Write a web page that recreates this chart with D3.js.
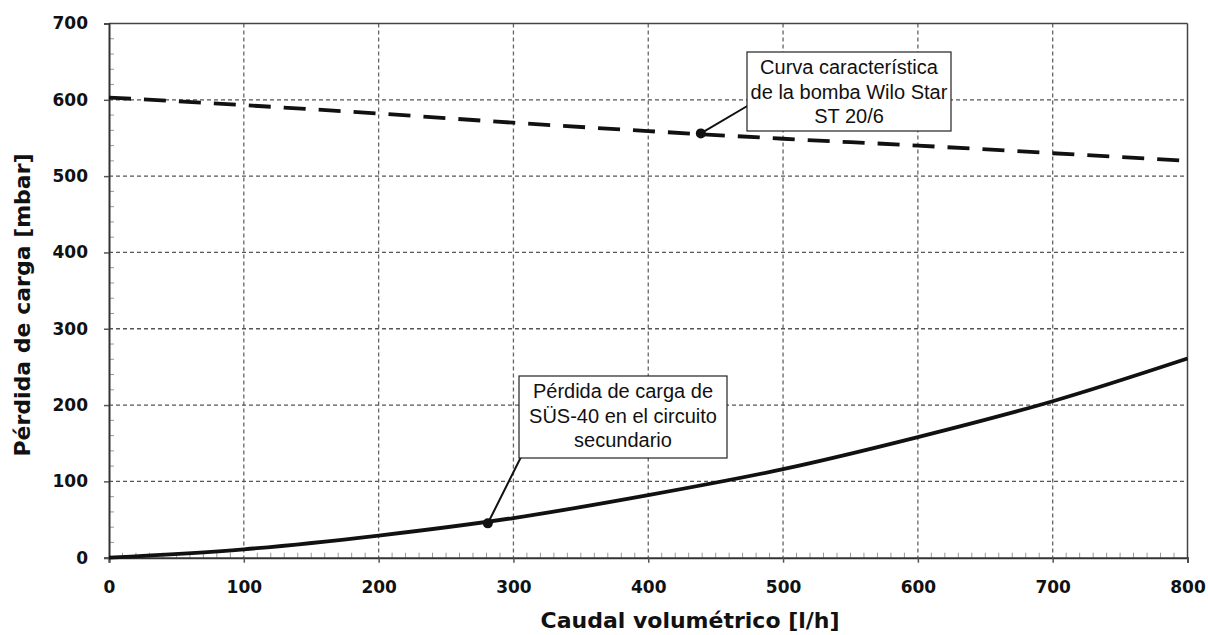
<!DOCTYPE html>
<html><head><meta charset="utf-8">
<script src="https://cdn.jsdelivr.net/npm/d3@7"></script>
<style>body{margin:0;background:#fff}</style>
</head><body>
<svg id="c" width="1208" height="635"></svg>
<script>
// Data
const flowX = [0, 100, 200, 300, 400, 500, 600, 700, 800];           // l/h
const pumpCurve = [603, 593, 582, 570, 559, 549, 540, 530, 520];       // mbar
const lossCurve = [0, 11, 29, 52, 82, 116, 158, 205, 261];             // mbar
const xTicks = [0, 100, 200, 300, 400, 500, 600, 700, 800];
const yTicks = [0, 100, 200, 300, 400, 500, 600, 700];
const pumpLabel = ["Curva característica", "de la bomba Wilo Star", "ST 20/6"];
const lossLabel = ["Pérdida de carga de", "SÜS-40 en el circuito", "secundario"];
const pumpMarker = [439, 556];
const lossMarker = [281, 45];
const xTitle = "Caudal volumétrico [l/h]";
const yTitle = "Pérdida de carga [mbar]";

const svg = d3.select("#c");
const L = 109, R = 1187.5, T = 23.5, B = 557.7;
const x = d3.scaleLinear().domain([0, 800]).range([L, R]);
const y = d3.scaleLinear().domain([0, 700]).range([B, T]);

// grid
const g = svg.append("g");
g.selectAll(".vg").data(xTicks.slice(1, -1)).join("line")
  .attr("x1", d => x(d)).attr("x2", d => x(d)).attr("y1", T).attr("y2", B)
  .attr("stroke", "#666").attr("stroke-width", 1.3).attr("stroke-dasharray", "4,3");
g.selectAll(".hg").data(yTicks.slice(1, -1)).join("line")
  .attr("y1", d => y(d)).attr("y2", d => y(d)).attr("x1", L).attr("x2", R)
  .attr("stroke", "#555").attr("stroke-width", 1.3).attr("stroke-dasharray", "4,3");

// frame top/right
svg.append("line").attr("x1", L).attr("x2", R).attr("y1", T).attr("y2", T).attr("stroke", "#444").attr("stroke-width", 1.5);
svg.append("line").attr("x1", R).attr("x2", R).attr("y1", T).attr("y2", B).attr("stroke", "#444").attr("stroke-width", 1.5);

// minor ticks
const xMinor = d3.range(0, 801, 10).filter(v => v % 100 !== 0);
const yMinor = d3.range(0, 701, 20).filter(v => v % 100 !== 0);
svg.append("g").selectAll("line").data(xMinor).join("line")
  .attr("x1", d => x(d)).attr("x2", d => x(d)).attr("y1", B).attr("y2", B - 5)
  .attr("stroke", "#999").attr("stroke-width", 1);
svg.append("g").selectAll("line").data(yMinor).join("line")
  .attr("y1", d => y(d)).attr("y2", d => y(d)).attr("x1", L).attr("x2", L + 5)
  .attr("stroke", "#999").attr("stroke-width", 1);

// axes
const fontTick = "'DejaVu Sans', sans-serif";
const xAxis = svg.append("g").attr("transform", `translate(0,${B})`)
  .call(d3.axisBottom(x).tickValues(xTicks).tickSize(5).tickPadding(18).tickFormat(d3.format("d")));
const yAxis = svg.append("g").attr("transform", `translate(${L},0)`)
  .call(d3.axisLeft(y).tickValues(yTicks).tickSize(5).tickPadding(16).tickFormat(d3.format("d")));
[xAxis, yAxis].forEach(a => {
  a.select(".domain").attr("stroke", "#333").attr("stroke-width", 2);
  a.selectAll(".tick line").attr("stroke", "#555").attr("stroke-width", 1.5);
  a.selectAll(".tick text").attr("fill", "#111").attr("font-family", fontTick)
    .attr("font-weight", "bold").attr("font-size", 17);
});

// curves
const line = d3.line().x((d, i) => x(flowX[i])).y(d => y(d)).curve(d3.curveMonotoneX);
svg.append("path").datum(pumpCurve).attr("d", line).attr("fill", "none")
  .attr("stroke", "#111").attr("stroke-width", 3.8).attr("stroke-dasharray", "22,13");
svg.append("path").datum(lossCurve).attr("d", line).attr("fill", "none")
  .attr("stroke", "#111").attr("stroke-width", 3.8);

// annotations
function annot(lines, marker, box, anchor) {
  const gg = svg.append("g");
  gg.append("line").attr("x1", x(marker[0])).attr("y1", y(marker[1]))
    .attr("x2", anchor[0]).attr("y2", anchor[1]).attr("stroke", "#111").attr("stroke-width", 2);
  gg.append("circle").attr("cx", x(marker[0])).attr("cy", y(marker[1])).attr("r", 5).attr("fill", "#111");
  gg.append("rect").attr("x", box[0]).attr("y", box[1]).attr("width", box[2]).attr("height", box[3])
    .attr("fill", "#fff").attr("stroke", "#222").attr("stroke-width", 1.2);
  const t = gg.append("text").attr("text-anchor", "middle").attr("font-family", "'Liberation Sans', Arial, sans-serif")
    .attr("font-size", 20).attr("fill", "#111");
  lines.forEach((s, i) => t.append("tspan").attr("x", box[0] + box[2] / 2)
    .attr("y", box[1] + 22 + i * 24.5).text(s));
}
annot(pumpLabel, pumpMarker, [747, 52, 204, 79], [749, 105]);
annot(lossLabel, lossMarker, [519, 376, 208, 82], [521, 457]);

// axis titles
svg.append("text").attr("x", 690).attr("y", 628).attr("text-anchor", "middle")
  .attr("font-family", fontTick).attr("font-weight", "bold").attr("font-size", 22).attr("fill", "#111").text(xTitle);
svg.append("text").attr("transform", `translate(30,${305}) rotate(-90)`).attr("text-anchor", "middle")
  .attr("font-family", fontTick).attr("font-weight", "bold").attr("font-size", 22).attr("fill", "#111").text(yTitle);
</script>
</body></html>
